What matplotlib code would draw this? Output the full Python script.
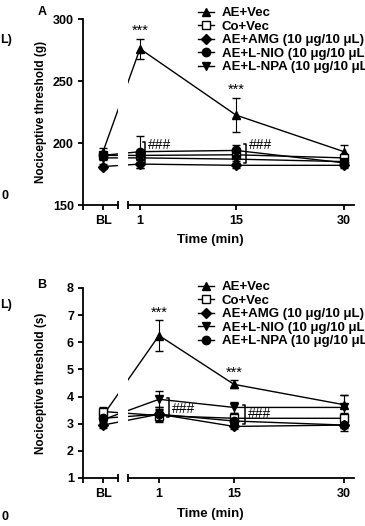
import matplotlib.pyplot as plt
from matplotlib.patches import Rectangle

plt.rcParams['font.family'] = ['Liberation Sans', 'DejaVu Sans']
plt.rcParams['font.weight'] = 'bold'

time_labels = ['BL', '1', '15', '30']

# panel A: mechanical threshold (g)
a_vec = [193, 276, 222.5, 193]
a_vec_err = [3, 8, 14, 5]
a_co = [190, 190, 190.5, 188]
a_co_err = [3, 4, 5, 3]
a_amg = [181, 183, 182, 182]
a_amg_err = [2, 3, 2, 2]
a_nio = [190, 193, 194, 184]
a_nio_err = [3, 13, 4, 3]
a_npa = [188, 188, 187, 185]
a_npa_err = [2, 3, 3, 2]

# panel B: thermal threshold (s)
b_vec = [3.3, 6.25, 4.45, 3.7]
b_vec_err = [0.15, 0.58, 0.15, 0.35]
b_co = [3.45, 3.3, 3.2, 3.2]
b_co_err = [0.15, 0.25, 0.2, 0.2]
b_amg = [2.95, 3.35, 2.9, 2.95]
b_amg_err = [0.1, 0.15, 0.1, 0.1]
b_nio = [3.15, 3.9, 3.6, 3.6]
b_nio_err = [0.15, 0.3, 0.2, 0.45]
b_npa = [3.2, 3.35, 3.1, 2.95]
b_npa_err = [0.1, 0.25, 0.1, 0.2]

# significance marks: (time index, bracket low, bracket high, ### height)
a_hash = [(1, 184, 200.5, 198), (2, 184, 199, 198)]
b_hash = [(1, 3.26, 3.95, 3.55), (2, 3.0, 3.7, 3.35)]

# layout (x positions of the categories, axis break)
pos_a = [20, 57, 153, 261]
pos_b = [20, 76, 151, 261]
x_max = 271
brk = (35, 45)
W, H = 365, 526


def draw_panel(ax, pos, series, ylim, yticks, ylabel, stars_dy, hashes, hash_dx):
    handles = []
    for y, err, m, mfc, lab in series:
        c = ax.errorbar(pos, y, yerr=err, color='black', marker=m, ms=6 if m != 'D' else 5.2,
                        mfc=mfc, mec='black', mew=1.0, lw=1.0, elinewidth=0.8,
                        capsize=3, capthick=0.8, zorder=2)
        handles.append(c[0])
    ax.set_xlim(0, x_max)
    ax.set_ylim(*ylim)
    ax.add_patch(Rectangle((brk[0], ylim[0] + 0.01 * (ylim[1] - ylim[0])), brk[1] - brk[0],
                           ylim[1] - ylim[0], facecolor='white', edgecolor='none', zorder=2.6))
    # broken x axis
    y0 = ylim[0]
    ax.plot([0, brk[0]], [y0, y0], color='black', lw=1.3, clip_on=False, zorder=5)
    ax.plot([brk[1], x_max], [y0, y0], color='black', lw=1.3, clip_on=False, zorder=5)
    ax.plot(brk, [y0, y0], ls='none', marker='|', ms=6, mew=1.3, color='black',
            clip_on=False, zorder=5)
    for s in ['top', 'right', 'bottom']:
        ax.spines[s].set_visible(False)
    ax.spines['left'].set_linewidth(1.3)
    ax.set_xticks([0] + pos, [''] + time_labels)
    ax.set_yticks(yticks)
    ax.tick_params(direction='out', length=3.5, width=1.3, labelsize=9, pad=3)
    ax.tick_params(axis='x', pad=4)
    ax.set_ylabel(ylabel, fontsize=8.5, fontweight='bold')
    ax.yaxis.set_label_coords(-0.133, 0.5)

    vec, vec_err = series[0][0], series[0][1]
    for i in (1, 2):
        ax.text(pos[i], vec[i] + vec_err[i] + stars_dy, '***', ha='center', va='center',
                fontsize=10.5, fontweight='normal')
    for (i, lo, hi, ty), dx in zip(hashes, hash_dx):
        bx = pos[i] + dx
        tick = 2.5
        ax.plot([bx - tick, bx, bx, bx - tick], [hi, hi, lo, lo], color='black', lw=1.1, zorder=3)
        ax.text(bx + 3, ty, '###', ha='left', va='center', fontsize=10, fontweight='normal')
    return handles


fig = plt.figure(figsize=(W / 100, H / 100), dpi=100)

ax_a = fig.add_axes([83 / W, 1 - 205 / H, x_max / W, 186 / H])
ax_b = fig.add_axes([83 / W, 1 - 478 / H, x_max / W, 190 / H])

series_a = [
    (a_vec, a_vec_err, '^', 'black', 'AE+Vec'),
    (a_co, a_co_err, 's', 'white', 'Co+Vec'),
    (a_amg, a_amg_err, 'D', 'black', 'AE+AMG (10 \u03bcg/10 \u03bcL)'),
    (a_nio, a_nio_err, 'o', 'black', 'AE+L-NIO (10 \u03bcg/10 \u03bcL)'),
    (a_npa, a_npa_err, 'v', 'black', 'AE+L-NPA (10 \u03bcg/10 \u03bcL)'),
]
series_b = [
    (b_vec, b_vec_err, '^', 'black', 'AE+Vec'),
    (b_co, b_co_err, 's', 'white', 'Co+Vec'),
    (b_amg, b_amg_err, 'D', 'black', 'AE+AMG (10 \u03bcg/10 \u03bcL)'),
    (b_nio, b_nio_err, 'v', 'black', 'AE+L-NIO (10 \u03bcg/10 \u03bcL)'),
    (b_npa, b_npa_err, 'o', 'black', 'AE+L-NPA (10 \u03bcg/10 \u03bcL)'),
]

h_a = draw_panel(ax_a, pos_a, series_a, (150, 300), [150, 200, 250, 300],
                 'Nociceptive threshold (g)', 6.5, a_hash, [5, 10])
h_b = draw_panel(ax_b, pos_b, series_b, (1, 8), range(1, 9),
                 'Nociceptive threshold (s)', 0.27, b_hash, [10, 11])

for h, ser, top in ((h_a, series_a, 7), (h_b, series_b, 281)):
    fig.legend(h, [s[4] for s in ser], loc='upper left',
               bbox_to_anchor=(198 / W, 1 - top / H), frameon=False,
               prop={'size': 9.5, 'weight': 'bold'}, handlelength=1.2,
               handletextpad=0.6, labelspacing=0.1, borderpad=0, borderaxespad=0)

fig.text(42 / W, 1 - 12 / H, 'A', ha='center', va='center', fontsize=9)
fig.text(42 / W, 1 - 285 / H, 'B', ha='center', va='center', fontsize=9)
fig.text(210 / W, 1 - 240 / H, 'Time (min)', ha='center', va='center', fontsize=9.5)
fig.text(210 / W, 1 - 514 / H, 'Time (min)', ha='center', va='center', fontsize=9.5)

# fragments of the neighbouring panel at the left edge
fig.text(12 / W, 1 - 40 / H, 'L)', ha='right', va='center', fontsize=9)
fig.text(8 / W, 1 - 196 / H, '0', ha='right', va='center', fontsize=9)
fig.text(12 / W, 1 - 305 / H, 'L)', ha='right', va='center', fontsize=9)
fig.text(8 / W, 1 - 517 / H, '0', ha='right', va='center', fontsize=9)

fig.savefig('out.png', dpi=100)
